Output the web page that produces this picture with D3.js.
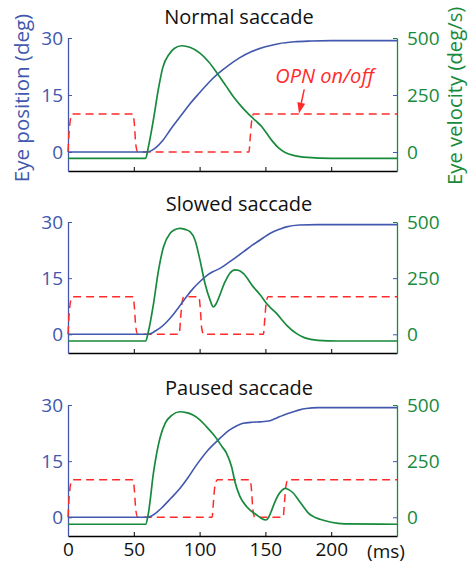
<!DOCTYPE html>
<html>
<head>
<meta charset="utf-8">
<script src="https://cdn.jsdelivr.net/npm/d3@7"></script>
<style>
  html, body { margin: 0; padding: 0; background: #fff; }
  svg { display: block; font-family: "Open Sans", "Liberation Sans", Arial, sans-serif; }
</style>
</head>
<body>
<svg id="chart" width="468" height="566"></svg>
<script>
// ---------------- DATA ----------------
const panelTitles = ["Normal saccade", "Slowed saccade", "Paused saccade"];
const timeTicks = [0, 50, 100, 150, 200];
const positionTicks = [0, 15, 30];
const velocityTicks = [0, 250, 500];
const timeUnitLabel = "(ms)";
const leftAxisLabel = "Eye position (deg)";
const rightAxisLabel = "Eye velocity (deg/s)";
const opnLabel = "OPN on/off";

// [time ms, eye position deg]
const normalPosition = [[0,0],[60,0],[63,0.3],[67,1.2],[72,3],[78,6],[85,9.2],[92,12.4],[100,15.6],[107,18.3],[114,20.6],[122,22.8],[130,24.7],[140,26.5],[150,27.7],[160,28.5],[172,29.0],[185,29.2],[200,29.3],[250,29.3]];
const slowedPosition = [[0,0],[60,0],[63,0.2],[66,0.8],[70,1.7],[75,3.3],[80,5.3],[85,7.6],[90,10],[95,12.2],[100.3,14.1],[105.4,15.7],[110,16.7],[115.5,17.6],[123,19.4],[133.2,22],[140,23.8],[146,25.2],[151,26.4],[156,27.4],[161,28.1],[166,28.7],[176,29.2],[190,29.3],[250,29.3]];
const pausedPosition = [[0,0],[60,0],[63,0.3],[67,1.2],[72,2.8],[78,5],[85,7.7],[91,10.5],[97.7,14],[106,17.8],[114,20.6],[122.6,23.3],[128,24.4],[133,25.1],[140,25.4],[146,25.5],[153.5,25.8],[157,26.3],[161,26.9],[166,27.6],[171.3,28.2],[176,28.7],[181,29.05],[190,29.3],[250,29.3]];

// [time ms, eye velocity deg/s]
const normalVelocity = [[0,-28],[59,-28],[61,20],[65,145],[68.5,270],[72,370],[77,430],[81,455],[86.5,466],[93,458],[100,435],[107,395],[114,340],[120,290],[126,240],[132,198],[138,162],[143,135],[147,113],[151,82],[155,50],[160,18],[165,-2],[172,-16],[182,-24],[200,-28],[250,-28]];
const slowedVelocity = [[0,-30],[59,-30],[61,10],[65,137],[68.8,286],[72.6,390],[77.5,449],[81,465],[85,472],[89,467],[92.7,457],[96.5,420],[100.3,330],[104.1,226],[108,152],[110.4,122],[112.5,135],[114.3,159],[119.3,233],[123,272],[126.9,287],[130,284],[133.2,271],[140.8,211],[146,176],[150.9,137],[155,112],[158.6,92],[162,68],[166.2,40],[173.8,3],[180,-16],[190,-27],[205,-30],[250,-30]];
const pausedVelocity = [[0,-31],[59,-31],[61,15],[65,200],[70,355],[74,420],[79,455],[85,470],[90,466],[95,455],[100,435],[105,405],[110,372],[113,350],[117,315],[120.5,285],[124.3,225],[127,155],[130.7,92],[135.8,47],[143.4,10],[147,-5],[150.5,-12],[152.5,0],[154.8,32],[157,65],[159.8,99],[162.5,120],[165,129],[168,122],[171.3,107],[175,78],[178.9,47],[182.5,20],[186.5,3],[191.5,-9],[200,-22],[210,-29],[250,-31]];

// [time ms, OPN level in position units]
const normalOpn = [[0,0],[1,6],[3,10],[49.5,10],[50.5,7],[51.5,2],[53,0],[137.5,0],[138.5,4],[139.5,8],[141,10],[250,10]];
const slowedOpn = [[0,0],[1,6],[3,10],[49.5,10],[50.5,7],[51.5,2],[53,0],[84.5,0],[85.5,4],[86.5,8],[88,10],[99.5,10],[100.5,7],[101.5,2],[103,0],[148.5,0],[149.5,4],[150.5,8],[152,10],[250,10]];
const pausedOpn = [[0,0],[1,6],[3,10],[49.5,10],[50.5,7],[51.5,2],[53,0],[109.5,0],[110.5,4],[111.5,8],[113.5,10],[138.5,10],[139.5,7],[140.5,2],[142,0],[163.5,0],[164.5,4],[165.5,8],[167,10],[250,10]];

// annotation anchor (data coords): text centre and arrow
const opnTextAt = [195, 18.2];
const opnArrowFrom = [179.5, 16.5];
const opnArrowTo = [175.5, 10.1];

// ---------------- STYLE / LAYOUT ----------------
const BLUE = "#4257ad", GREEN = "#178a3c", RED = "#ff2b2b";
const FONT = "Open Sans, Liberation Sans, Arial, sans-serif";
const layout = [
  { top: 38,  h: 133, titleY: 24 },
  { top: 222, h: 131, titleY: 211 },
  { top: 405, h: 131, titleY: 395 }
];
const series = [
  { pos: normalPosition, vel: normalVelocity, opn: normalOpn },
  { pos: slowedPosition, vel: slowedVelocity, opn: slowedOpn },
  { pos: pausedPosition, vel: pausedVelocity, opn: pausedOpn }
];

const svg = d3.select("#chart");
const x = d3.scaleLinear().domain([0, 250]).range([68, 397]);

layout.forEach((L, i) => {
  const S = series[i];
  const bottom = L.top + L.h;
  const yL = d3.scaleLinear().domain([-5, 30]).range([bottom, L.top]);
  const yR = d3.scaleLinear().domain([-500 * 5 / 30, 500]).range([bottom, L.top]);
  const g = svg.append("g");

  // title
  g.append("text").attr("x", 239).attr("y", L.titleY).attr("text-anchor", "middle")
    .attr("font-size", 20).attr("fill", "#111").text(panelTitles[i]);

  // bottom axis
  const xAxis = d3.axisBottom(x).tickValues(timeTicks).tickSizeInner(-4).tickSizeOuter(0).tickPadding(7)
    .tickFormat(i === 2 ? d3.format("d") : () => "");
  const gx = g.append("g").attr("transform", `translate(0,${bottom})`).call(xAxis);
  gx.select(".domain").attr("stroke", "#000").attr("stroke-width", 1.3);
  gx.selectAll(".tick line").attr("stroke", "#000");
  gx.selectAll(".tick text").attr("font-size", 19).attr("fill", "#111").attr("font-family", FONT);

  // left axis
  const yAxisL = d3.axisLeft(yL).tickValues(positionTicks).tickSizeInner(-4).tickSizeOuter(0).tickPadding(5);
  const gl = g.append("g").attr("transform", `translate(${x(0)},0)`).call(yAxisL);
  gl.select(".domain").attr("stroke", BLUE).attr("stroke-width", 1.3);
  gl.selectAll(".tick line").attr("stroke", BLUE);
  gl.selectAll(".tick text").attr("font-size", 19).attr("fill", BLUE).attr("font-family", FONT);

  // right axis
  const yAxisR = d3.axisRight(yR).tickValues(velocityTicks).tickSizeInner(-4).tickSizeOuter(0).tickPadding(10);
  const gr = g.append("g").attr("transform", `translate(${x(250)},0)`).call(yAxisR);
  gr.select(".domain").attr("stroke", GREEN).attr("stroke-width", 1.3);
  gr.selectAll(".tick line").attr("stroke", (d) => d === 500 ? GREEN : BLUE);
  gr.selectAll(".tick text").attr("font-size", 19).attr("fill", GREEN).attr("font-family", FONT);

  const lineL = d3.line().x(d => x(d[0])).y(d => yL(d[1])).curve(d3.curveMonotoneX);
  const lineR = d3.line().x(d => x(d[0])).y(d => yR(d[1])).curve(d3.curveMonotoneX);

  g.append("path").datum(S.opn).attr("d", lineL).attr("fill", "none")
    .attr("stroke", RED).attr("stroke-width", 1.5).attr("stroke-dasharray", "8,5");
  g.append("path").datum(S.pos).attr("d", lineL).attr("fill", "none")
    .attr("stroke", BLUE).attr("stroke-width", 1.6);
  g.append("path").datum(S.vel).attr("d", lineR).attr("fill", "none")
    .attr("stroke", GREEN).attr("stroke-width", 1.7);

  if (i === 0) {
    // axis titles
    svg.append("text").attr("transform", `translate(29,98) rotate(-90)`).attr("text-anchor", "middle")
      .attr("font-size", 20.5).attr("fill", BLUE).text(leftAxisLabel);
    svg.append("text").attr("transform", `translate(462,185) rotate(-90)`).attr("text-anchor", "start")
      .attr("font-size", 20.3).attr("fill", GREEN).text(rightAxisLabel);
    // OPN annotation
    g.append("text").attr("x", x(opnTextAt[0])).attr("y", yL(opnTextAt[1])).attr("text-anchor", "middle")
      .attr("font-size", 20).attr("font-style", "italic").attr("fill", RED).text(opnLabel);
    const x1 = x(opnArrowFrom[0]), y1 = yL(opnArrowFrom[1]);
    const x2 = x(opnArrowTo[0]), y2 = yL(opnArrowTo[1]);
    const ang = Math.atan2(y2 - y1, x2 - x1);
    const hl = 11, hw = 4;
    const bx = x2 - hl * Math.cos(ang), by = y2 - hl * Math.sin(ang);
    g.append("line").attr("x1", x1).attr("y1", y1).attr("x2", bx).attr("y2", by)
      .attr("stroke", RED).attr("stroke-width", 1.5);
    g.append("path").attr("d",
      `M${x2},${y2}L${bx + hw * Math.sin(ang)},${by - hw * Math.cos(ang)}L${bx - hw * Math.sin(ang)},${by + hw * Math.cos(ang)}Z`)
      .attr("fill", RED);
  }
  if (i === 2) {
    g.append("text").attr("x", 386).attr("y", 558).attr("text-anchor", "middle")
      .attr("font-size", 19).attr("fill", "#111").text(timeUnitLabel);
  }
});
</script>
</body>
</html>
